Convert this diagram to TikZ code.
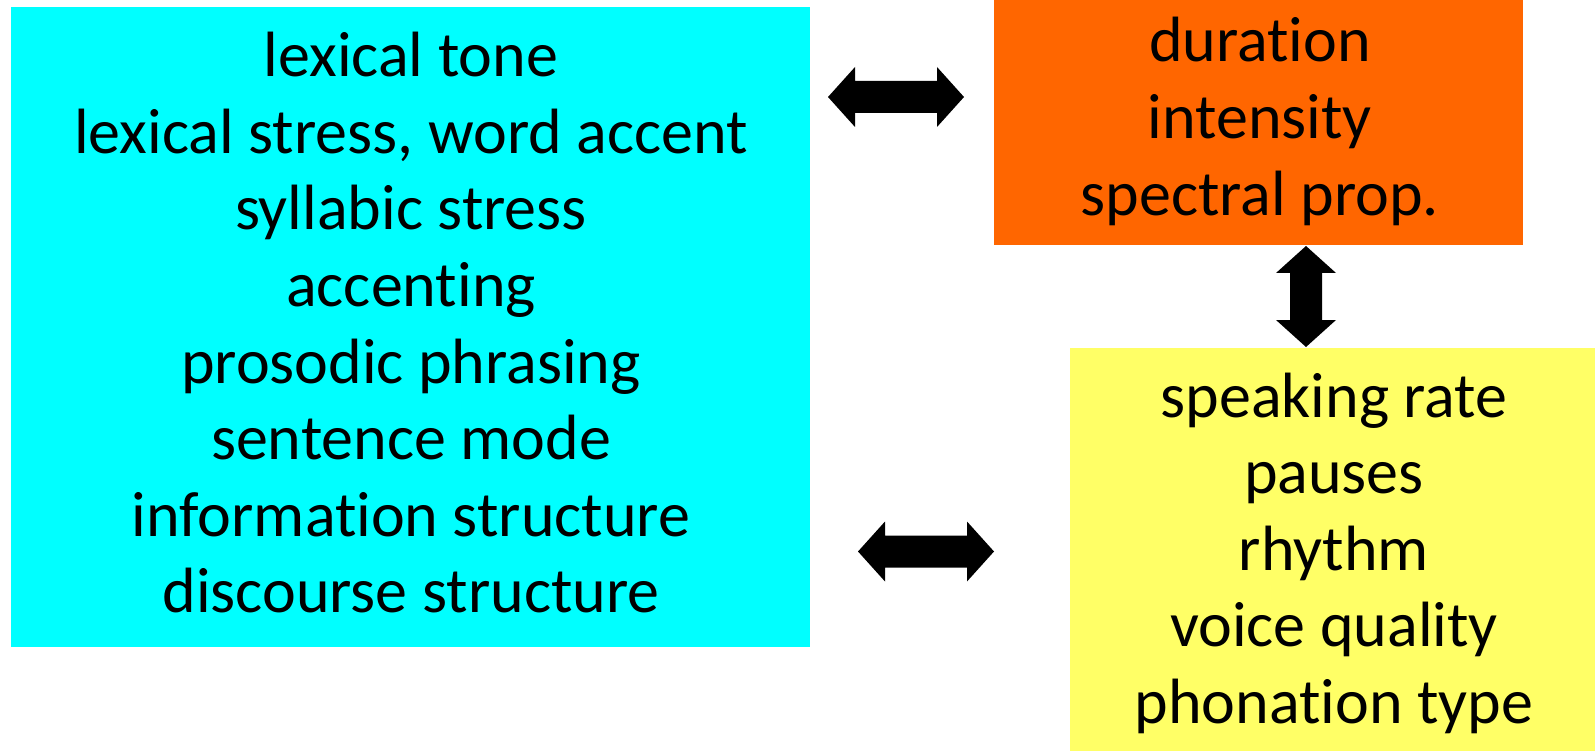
\documentclass[tikz,border=0pt]{standalone}
\usepackage{fontspec}
\setmainfont[Ligatures=NoCommon]{Carlito}
\definecolor{boxcyan}{HTML}{00FFFF}
\definecolor{boxorange}{HTML}{FF6600}
\definecolor{boxyellow}{HTML}{FFFF66}
\tikzset{
  box/.style={inner sep=0pt, outer sep=0pt, anchor=north west},
  txt/.style={inner sep=0pt, anchor=base, font=\fontsize{64}{76}\selectfont},
  pics/dblarrow/.style={code={
    \fill[black] (-#1,0) -- (-#1+27,30) -- (-#1+27,16) -- (#1-27,16) -- (#1-27,30)
      -- (#1,0) -- (#1-27,-30) -- (#1-27,-16) -- (-#1+27,-16) -- (-#1+27,-30) -- cycle;
  }}
}
\begin{document}
\begin{tikzpicture}[x=1pt,y=-1pt]
\useasboundingbox (0,0) rectangle (1595,751);
\node[box, fill=boxcyan, minimum width=799pt, minimum height=640pt] (left) at (11,7) {};
\node[box, fill=boxorange, minimum width=529pt, minimum height=245pt] (dur) at (994,0) {};
\node[box, fill=boxyellow, minimum width=525pt, minimum height=403pt] (spk) at (1070,348) {};

\foreach \t [count=\i] in {lexical tone, {lexical stress, word accent}, syllabic stress, accenting, prosodic phrasing, sentence mode, information structure, discourse structure}
  \node[txt] (l\i) at (411,{76.6+76.6*(\i-1)}) {\t};

\foreach \t [count=\i] in {duration, intensity, spectral prop.}
  \node[txt] (o\i) at (1260,{62+76.8*(\i-1)}) {\t};

\foreach \t [count=\i] in {speaking rate, pauses, rhythm, voice quality, phonation type}
  \node[txt] (y\i) at (1334,{417+76.5*(\i-1)}) {\t};

\pic (a1) at (896,97) {dblarrow=68};
\pic (a2) at (926,551.5) {dblarrow=68};
\pic[rotate=90] (a3) at (1306,296.5) {dblarrow=50.5};
\end{tikzpicture}
\end{document}
